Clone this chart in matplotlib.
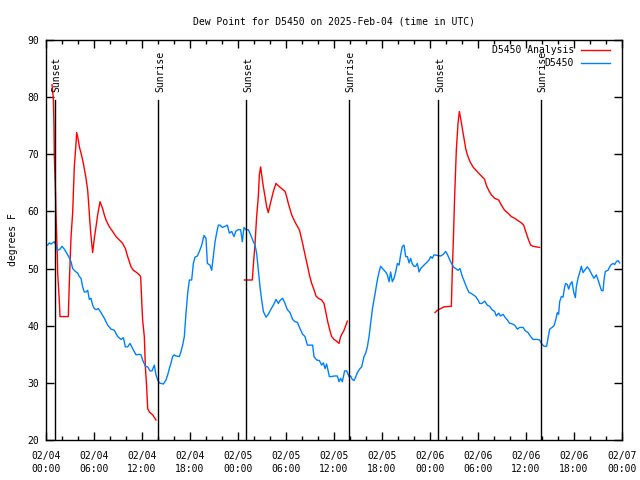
import matplotlib
matplotlib.use("Agg")
import matplotlib.pyplot as plt
from matplotlib.ticker import MultipleLocator

plt.rcParams['font.family'] = ['DejaVu Sans Mono']
plt.rcParams['font.size'] = 7

# hours since 2025-02-04 00:00 UTC
obs_hours = [0.21, 0.42, 0.63, 1.04, 1.25, 1.46, 1.75, 2.0, 2.29, 2.58, 2.83, 3.13, 3.33, 3.67, 3.96,
             4.17, 4.38, 4.58, 4.79, 5.0, 5.21, 5.42, 5.63, 5.83, 6.04, 6.25, 6.54, 6.88, 7.29, 7.71,
             8.13, 8.54, 8.96, 9.38, 9.67, 9.92, 10.21, 10.5, 10.83, 11.25, 11.67, 11.88, 12.08, 12.42,
             12.71, 13.0, 13.25, 13.54, 13.75, 13.96, 14.17, 14.38, 14.67, 15.0, 15.21, 15.42, 15.63,
             15.83, 16.04, 16.25, 16.67, 16.88, 17.08, 17.29, 17.5, 17.71, 17.92,
             18.21, 18.42, 18.63, 18.92, 19.17, 19.46, 19.75, 20.0, 20.17, 20.5, 20.71, 20.92, 21.13,
             21.33, 21.54, 21.75, 22.04, 22.38, 22.67, 22.92, 23.21, 23.5, 23.75, 24.04, 24.33, 24.54,
             24.75, 25.0, 25.29, 25.58, 25.92, 26.13, 26.33, 26.54, 26.75, 26.96, 27.17, 27.5, 27.79,
             28.08, 28.42, 28.75, 29.04, 29.25, 29.58, 29.88, 30.17, 30.5, 30.83, 31.13, 31.42, 31.75,
             32.08, 32.38, 32.67, 33.0, 33.33, 33.5, 33.83, 34.17, 34.46, 34.67, 34.88, 35.08, 35.42,
             35.71, 36.0, 36.42, 36.63, 36.83, 37.04, 37.33, 37.58, 37.88, 38.08, 38.29, 38.5, 38.71,
             38.92, 39.25, 39.46, 39.75, 39.96, 40.17, 40.38, 40.58, 40.79, 41.0, 41.21, 41.42, 41.63,
             41.83, 42.13, 42.46, 42.67, 42.88, 43.08, 43.29, 43.5, 43.71, 43.92, 44.13, 44.33, 44.54,
             44.75, 44.96, 45.17, 45.38, 45.58, 45.79, 46.0, 46.21, 46.42, 46.63, 46.83, 47.04, 47.46,
             47.88, 48.08, 48.29, 48.5, 48.92, 49.33, 49.67, 49.96, 50.17, 50.38, 50.58, 50.92, 51.21,
             51.5, 51.75, 52.04, 52.25, 52.46, 52.67, 52.88, 53.08, 53.42, 53.71,
             54.0, 54.21, 54.5, 54.83, 55.17, 55.46, 55.75, 56.08, 56.29, 56.58, 56.83, 57.13, 57.42,
             57.67, 57.96, 58.17, 58.58, 58.92, 59.21, 59.63, 59.92, 60.25, 60.58, 60.88, 61.42, 61.71,
             61.92, 62.25, 62.58, 62.75, 62.96, 63.25, 63.5, 63.71, 63.92, 64.08, 64.21, 64.42, 64.63,
             64.83, 64.96, 65.17, 65.33, 65.54, 65.75, 65.96, 66.17, 66.29, 66.5, 66.71, 66.92, 67.13,
             67.33, 67.67, 67.96, 68.25, 68.5, 68.79, 69.08, 69.42, 69.63, 69.75, 69.92, 70.25, 70.58,
             70.88, 71.08, 71.29, 71.5, 71.71]
obs_dewpt = [54.1, 54.5, 54.3, 54.7, 54.1, 53.2, 53.4, 53.9, 53.4, 52.7, 52.1, 51.2, 50.0, 49.5, 49.2,
             48.6, 48.3, 46.8, 45.9, 45.9, 46.2, 44.6, 44.8, 43.6, 43.0, 42.8, 43.0, 42.3, 41.3, 40.1,
             39.4, 39.2, 38.1, 37.6, 37.9, 36.3, 36.3, 36.9, 36.0, 34.9, 35.0, 34.9, 34.0, 32.9,
             32.8, 32.1, 32.1, 33.1, 31.4, 30.5, 30.0, 29.9, 29.8, 30.5, 31.4, 32.5, 33.5,
             34.6, 34.9, 34.7, 34.6, 35.5, 36.6, 38.1, 42.2, 45.7, 48.0,
             48.0, 50.9, 52.0, 52.2, 53.0, 54.1, 55.8, 55.3, 50.9, 50.6, 49.7, 52.2, 54.7,
             56.2, 57.6, 57.6, 57.2, 57.4, 57.6, 56.2, 56.5, 55.6, 56.6, 56.8, 56.8, 54.7,
             57.2, 56.8, 56.8, 55.9, 54.7, 54.1, 52.7, 49.7, 46.8, 44.5, 42.5, 41.5, 42.0,
             42.8, 43.6, 44.6, 43.9, 44.4, 44.8, 43.9, 42.8, 42.3, 41.1, 40.7, 40.6, 39.5,
             38.5, 38.1, 36.6, 36.6, 36.6, 34.6, 34.0, 33.9, 33.1, 33.5, 32.5, 33.3, 31.1,
             31.1, 31.2, 31.2, 30.2, 30.8, 30.2, 32.1, 32.1, 31.1, 31.2, 30.6, 30.4, 31.0,
             31.8, 32.5, 32.8, 34.6, 35.2, 36.3, 38.1, 40.4, 42.8, 44.5, 46.2, 48.0, 49.4,
             50.4, 49.9, 49.4, 48.9, 47.7, 49.4, 47.7, 48.3, 49.4, 50.9, 50.6, 52.4, 53.9,
             54.1, 52.1, 52.1, 51.0, 51.8, 50.8, 50.4, 50.4, 50.9, 49.4, 50.0, 50.3, 50.9,
             51.5, 52.1, 51.8, 52.4, 52.3, 52.2, 52.5, 53.0, 52.5, 51.8, 51.2, 50.3, 50.0,
             49.7, 50.0, 48.6, 47.9, 47.1, 46.4, 45.8, 45.7, 45.4, 45.1,
             44.5, 43.9, 43.9, 44.3, 43.6, 43.4, 42.8, 42.5, 41.7, 42.2, 41.7, 42.0, 41.4,
             41.0, 40.4, 40.4, 40.1, 39.4, 39.7, 39.7, 39.1, 38.8, 38.1, 37.6, 37.6, 37.5,
             36.9, 36.4, 36.4, 37.8, 39.4, 39.7, 40.0, 41.0, 42.3, 42.0, 44.2, 45.1, 45.0,
             46.8, 47.4, 47.2, 46.4, 47.3, 47.7, 45.9, 44.9, 46.8, 48.3, 49.3, 50.4, 49.3,
             49.7, 50.3, 49.7, 48.9, 48.3, 48.9, 47.7, 46.2, 46.1, 48.0, 49.5, 49.7, 50.6,
             50.9, 50.7, 51.2, 51.4, 51.0]

# analysis, three overnight runs
ana1_hours = [0.75, 0.92, 1.0, 1.04, 1.17, 1.25, 1.42, 1.46, 1.67, 1.75, 2.79, 2.83, 2.92, 3.13, 3.33,
              3.54, 3.75, 3.83, 4.0, 4.17, 4.38, 4.58, 4.79, 5.0, 5.21, 5.33, 5.5, 5.63, 5.83, 6.04,
              6.25, 6.46, 6.75, 7.08, 7.29, 7.5, 7.92, 8.33, 8.75, 9.17, 9.58, 9.92, 10.21, 10.42,
              10.63, 10.92, 11.25, 11.67, 11.83, 11.96, 12.08, 12.29, 12.42, 12.58, 12.71, 12.92,
              13.33, 13.75]
ana1_dewpt = [82.2, 79.7, 74.6, 69.6, 64.3, 59.4, 52.0, 49.2, 44.2, 41.6, 41.6, 43.6, 47.7, 55.6, 59.7,
              67.8, 71.9, 73.8, 72.8, 71.3, 70.2, 69.0, 67.5, 65.8, 63.7, 61.4, 57.9, 55.6, 52.8, 55.3,
              57.3, 59.4, 61.7, 60.5, 59.4, 58.5, 57.3, 56.5, 55.6, 55.0, 54.4, 53.5, 52.1, 51.2,
              50.3, 49.7, 49.4, 48.9, 48.6, 44.5, 41.0, 38.1, 32.8, 29.3, 25.5, 24.9,
              24.4, 23.5]
ana2_hours = [24.79, 25.79, 25.92, 26.13, 26.33, 26.54, 26.67, 26.83, 26.96, 27.17, 27.38, 27.58, 27.79,
              28.0, 28.21, 28.42, 28.75, 29.04, 29.46, 29.88, 30.08, 30.29, 30.5, 30.71, 31.0, 31.33,
              31.67, 31.83, 32.08, 32.38, 32.67, 32.92, 33.21, 33.5, 33.75, 34.04, 34.46, 34.75, 35.0,
              35.17, 35.42, 35.71, 36.0, 36.33, 36.63, 36.83, 37.25, 37.67]
ana2_dewpt = [48.0, 48.0, 50.6, 54.4, 59.1, 62.6, 66.4, 67.8, 66.4, 64.3, 62.6, 60.8, 59.8,
              61.1, 62.3, 63.5, 64.9, 64.5, 64.0, 63.5, 62.6, 61.4, 60.4, 59.4, 58.5, 57.6,
              56.8, 55.9, 54.4, 52.4, 50.6, 48.9, 47.4, 46.3, 45.2, 44.8, 44.5, 43.9, 42.2,
              41.0, 39.5, 38.1, 37.6, 37.3, 36.9, 38.1, 39.2, 40.8]
ana3_hours = [48.63, 48.92, 49.33, 49.75, 50.67, 50.79, 50.92, 51.08, 51.29, 51.5, 51.67, 51.83, 52.04,
              52.25, 52.46, 52.67, 53.0, 53.42, 53.83, 54.0, 54.42, 54.83, 55.04, 55.33, 55.67, 56.08,
              56.58, 56.92, 57.33, 57.75, 58.17, 58.58, 59.0, 59.42, 59.71, 59.96, 60.25, 60.58, 60.88,
              61.29, 61.71]
ana3_dewpt = [42.3, 42.7, 43.0, 43.3, 43.4, 49.7, 55.0, 62.6, 70.7, 75.4, 77.5, 76.3, 74.5,
              72.8, 71.0, 69.9, 68.7, 67.7, 67.1, 66.8, 66.2, 65.6, 64.6, 63.7, 62.9, 62.3,
              62.0, 61.1, 60.2, 59.7, 59.1, 58.8, 58.4, 58.0, 57.6, 56.5, 55.3, 54.1, 53.9,
              53.8, 53.7]

sun_hours = [1.15, 14.05, 25.05, 37.9, 49.05, 61.9]
sun_labels = ['Sunset', 'Sunrise', 'Sunset', 'Sunrise', 'Sunset', 'Sunrise']

tick_hours = [0, 6, 12, 18, 24, 30, 36, 42, 48, 54, 60, 66, 72]
tick_labels = ['02/04\n00:00', '02/04\n06:00', '02/04\n12:00', '02/04\n18:00',
               '02/05\n00:00', '02/05\n06:00', '02/05\n12:00', '02/05\n18:00',
               '02/06\n00:00', '02/06\n06:00', '02/06\n12:00', '02/06\n18:00',
               '02/07\n00:00']

red = '#ff0000'
blue = '#0080ff'

fig = plt.figure(figsize=(6.4, 4.8), dpi=100)
ax = fig.add_axes([46 / 640, 40 / 480, 576 / 640, 400 / 480])

ax.plot(ana1_hours, ana1_dewpt, color=red, lw=1.0)
ax.plot(ana2_hours, ana2_dewpt, color=red, lw=1.0)
ax.plot(ana3_hours, ana3_dewpt, color=red, lw=1.0)
ax.plot(obs_hours, obs_dewpt, color=blue, lw=1.0)

trans = ax.get_xaxis_transform()
for h, lab in zip(sun_hours, sun_labels):
    ax.plot([h, h], [0, 0.85], color='black', lw=1.0, transform=trans)
    ax.text(h + 0.2, 0.87, lab, rotation=90, ha='center', va='bottom', transform=trans)

ax.set_xlim(0, 72)
ax.set_ylim(20, 90)
ax.set_xticks(tick_hours)
ax.set_xticklabels(tick_labels)
ax.xaxis.set_minor_locator(MultipleLocator(2))
ax.yaxis.set_major_locator(MultipleLocator(10))
for lab in ax.get_xticklabels():
    lab.set_linespacing(1.35)

ax.tick_params(which='both', direction='in', top=True, right=True, width=1, color='black')
ax.tick_params(which='major', length=6, pad=5)
ax.tick_params(axis='x', which='major', pad=8)
ax.tick_params(which='minor', length=3)
for s in ax.spines.values():
    s.set_linewidth(1)

ax.set_ylabel('degrees F', labelpad=7)
ax.set_title('Dew Point for D5450 on 2025-Feb-04 (time in UTC)', fontsize=7, pad=11)

# key, top right, text before the sample line
for yk, name, col in [(0.975, 'D5450 Analysis', red), (0.9425, 'D5450', blue)]:
    ax.text(0.917, yk, name, ha='right', va='center', transform=ax.transAxes)
    ax.plot([0.929, 0.979], [yk, yk], color=col, lw=1.0, transform=ax.transAxes)

fig.savefig('out.png', dpi=100)
